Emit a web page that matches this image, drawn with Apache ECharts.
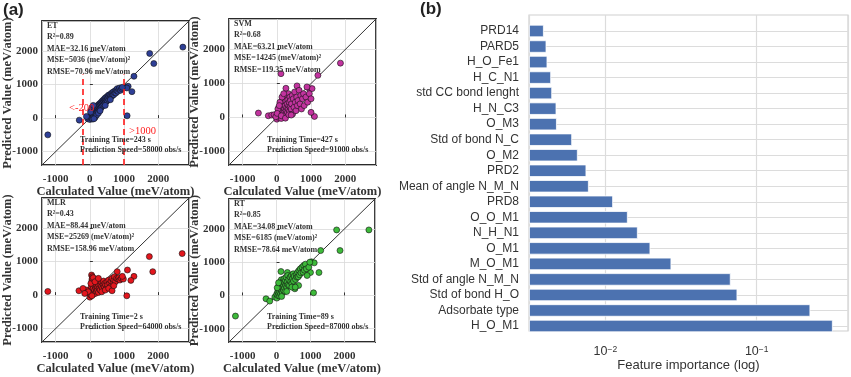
<!DOCTYPE html>
<html>
<head>
<meta charset="utf-8">
<script src="https://cdn.jsdelivr.net/npm/echarts@6/dist/echarts.min.js"></script>
<style>
  html, body { margin: 0; padding: 0; background: #fff; }
  #chart { width: 851px; height: 377px; }
</style>
</head>
<body>
<div id="chart"></div>
<script>
// ---- data: panel (a), calculated vs predicted (meV/atom) ----
const etPoints = [
  [-1230, -500], [2720, 2120], [1750, 1930], [1870, 1630], [1290, 1250], [1230, 790], [1090, 70], [-310, -60],
  [1040, 930], [1120, 950], [1080, 900],
  [-60, -20], [-20, 30], [0, -40], [10, 60], [30, 0], [40, 110], [50, 30], [60, 150], [70, 70], [80, -30],
  [90, 120], [100, 200], [110, 60], [120, 160], [130, 250], [140, 100], [150, 190], [160, 300], [170, 130],
  [180, 230], [190, 330], [200, 170], [210, 260], [220, 360], [230, 200], [240, 290], [250, 400], [260, 230],
  [270, 330], [280, 420], [290, 270], [300, 370], [310, 450], [320, 300], [330, 400], [340, 480], [350, 340],
  [360, 430], [370, 520], [380, 380], [390, 470], [400, 540], [410, 410], [420, 500], [430, 580], [440, 450],
  [450, 540], [460, 610], [470, 480], [480, 560], [500, 640], [510, 520], [520, 600], [540, 680], [550, 560],
  [560, 640], [580, 700], [600, 620], [610, 690], [630, 740], [650, 660], [660, 720], [680, 780], [700, 700],
  [720, 760], [740, 820], [760, 750], [780, 830], [800, 880], [820, 800], [850, 860], [870, 900], [900, 830],
  [930, 880], [950, 920], [70, 330], [40, 250], [100, 380], [-100, 50], [150, 20], [200, 90], [250, 150],
  [600, 550], [450, 380], [300, 220], [120, -20], [20, 180]
];
const svmPoints = [
  [-540, 130], [1860, 1600], [120, 1290], [1200, 1240], [265, 860], [590, 930], [1100, 30], [1000, 150],
  [950, 850], [1030, 850], [-250, 50], [-150, 70],
  [0, -50], [20, 60], [40, 150], [50, 0], [60, 300], [70, 100], [80, 200], [90, 50], [100, 400], [110, 150],
  [120, 250], [130, -30], [140, 350], [150, 100], [160, 500], [170, 200], [180, 300], [190, 60], [200, 420],
  [210, 150], [220, 550], [230, 260], [240, 350], [250, 100], [260, 480], [270, 200], [280, 650], [290, 300],
  [300, 400], [310, 150], [320, 520], [330, 250], [340, 700], [350, 350], [360, 450], [370, 180], [380, 600],
  [390, 300], [400, 500], [420, 250], [430, 400], [450, 650], [460, 100], [480, 550], [500, 300], [520, 750],
  [540, 450], [560, 200], [580, 600], [600, 350], [620, 500], [650, 800], [680, 400], [700, 650], [720, 250],
  [750, 550], [780, 700], [800, 350], [850, 600], [880, 900], [900, 450], [950, 700], [1000, 550], [-80, 80],
  [-30, 20], [30, 250], [90, 450], [150, 600], [200, 700], [10, 120], [70, 350], [130, 50], [250, -20],
  [350, 80], [420, 70]
];
const mlrPoints = [
  [-1230, 110], [2700, 1240], [1740, 1150], [1840, 700], [1100, 750], [1290, 560], [1200, 440], [1080, -20],
  [-320, 130], [800, 700],
  [0, -60], [10, 50], [20, 150], [30, 0], [40, 250], [50, 100], [50, 600], [60, 450], [70, 550], [80, 300],
  [90, 20], [100, 200], [110, 350], [120, 80], [130, 450], [140, 150], [150, 280], [160, 50], [170, 380],
  [180, 200], [190, 120], [200, 300], [210, 420], [220, 150], [230, 250], [240, 350], [250, 80], [260, 300],
  [280, 200], [290, 400], [300, 150], [320, 300], [340, 250], [350, 380], [370, 200], [390, 320], [400, 420],
  [420, 250], [440, 350], [460, 300], [480, 200], [500, 400], [520, 300], [550, 450], [580, 350], [600, 250],
  [620, 420], [650, 500], [680, 380], [700, 450], [720, 550], [750, 400], [780, 500], [820, 480], [850, 520],
  [880, 450], [920, 500], [980, 480], [-100, 150], [-50, 100], [-200, 200], [-150, 50], [30, 350], [70, 500],
  [100, 520], [150, 400], [60, -20], [250, 500], [350, 100], [450, 150], [550, 200], [650, 130], [700, 280],
  [950, 560]
];
const rtPoints = [
  [-1210, -620], [2720, 1970], [1770, 1970], [1870, 1350], [1300, 1350], [1250, 690], [1090, 80], [-310, -100],
  [130, 720], [320, 690], [1000, 690], [1030, 1010], [1110, 980], [-200, -170],
  [-50, -50], [0, 30], [10, -80], [30, 100], [40, 0], [50, 200], [60, 60], [70, 300], [80, 120], [90, -20],
  [100, 400], [110, 180], [120, 50], [130, 260], [140, 470], [150, 140], [160, 350], [170, 80], [180, 230],
  [190, 420], [200, 160], [210, 300], [220, 500], [230, 220], [240, 380], [250, 120], [260, 450], [270, 300],
  [280, 550], [300, 250], [310, 400], [330, 600], [340, 320], [360, 480], [380, 300], [400, 550], [420, 420],
  [440, 600], [450, 350], [470, 500], [490, 650], [500, 430], [520, 580], [540, 200], [560, 480], [580, 620],
  [600, 550], [620, 700], [640, 560], [660, 750], [680, 620], [700, 800], [720, 680], [750, 850], [780, 700],
  [800, 900], [820, 760], [850, 940], [880, 800], [900, 600], [950, 850], [980, 1000], [20, 230], [60, 380],
  [150, -30], [300, 120], [450, 250], [650, 300], [550, 250]
];
const modelNames = ['ET', 'SVM', 'MLR', 'RT'];
const r2 = ['0.89', '0.68', '0.43', '0.85'];
const mae = ['32.16', '63.21', '88.44', '34.08'];
const mse = ['5036', '14245', '25269', '6185'];
const rmse = ['70.96', '119.35', '158.96', '78.64'];
const trainTime = ['243', '427', '2', '89'];
const predSpeed = ['58000', '91000', '64000', '87000'];
const axisRange = [-1400, 2900];
const etCutoffs = [-200, 1000];
const etCutoffTop = 1300;

// ---- data: panel (b), feature importance ----
const features = ['PRD14', 'PARD5', 'H_O_Fe1', 'H_C_N1', 'std CC bond lenght', 'H_N_C3', 'O_M3',
  'Std of bond N_C', 'O_M2', 'PRD2', 'Mean of angle N_M_N', 'PRD8', 'O_O_M1', 'N_H_N1', 'O_M1',
  'M_O_M1', 'Std of angle N_M_N', 'Std of bond H_O', 'Adsorbate type', 'H_O_M1'];
const importance = [0.00392, 0.00408, 0.00414, 0.00438, 0.00445, 0.00475, 0.00478,
  0.00603, 0.00657, 0.00749, 0.00777, 0.01124, 0.01406, 0.01637, 0.01983,
  0.02729, 0.0673, 0.0745, 0.226, 0.318];
const logRange = [0.00313, 0.401];

// ---- layout / style ----
const serif = 'Liberation Serif';
const sans = 'Liberation Sans';
const ink = '#333';
const dotColors = ['#2e3f96', '#c2339f', '#e3161d', '#3dba3a'];
const pointSets = [etPoints, svmPoints, mlrPoints, rtPoints];
const scatterGrids = [
  { left: 42, top: 21, width: 147, height: 144 },
  { left: 229, top: 19, width: 147, height: 146 },
  { left: 42, top: 198, width: 147, height: 144 },
  { left: 229, top: 199, width: 146, height: 143 }
];

const chart = echarts.init(document.getElementById('chart'));

const grid = [], xAxis = [], yAxis = [], series = [], graphic = [];

scatterGrids.forEach((g, i) => {
  grid.push(Object.assign({ show: true, borderColor: '#2a2a2a', borderWidth: 1.8, backgroundColor: '#fff' }, g));
  const common = {
    type: 'value', gridIndex: i, min: axisRange[0], max: axisRange[1],
    axisLine: { show: false },
    axisTick: { show: true, inside: true, length: 3, lineStyle: { color: ink } },
    splitLine: { show: true, lineStyle: { color: '#d9d9d9', width: 0.8 } },
    axisLabel: { showMinLabel: false, showMaxLabel: false, color: ink, fontFamily: serif,
      fontWeight: 'bold', fontSize: 11, formatter: v => String(v) },
    nameLocation: 'middle', nameMoveOverlap: false,
    nameTextStyle: { color: ink, fontFamily: serif, fontWeight: 'bold', fontSize: 12.5 }
  };
  xAxis.push(Object.assign({}, common, {
    axisLabel: Object.assign({}, common.axisLabel, { margin: 9 }),
    name: 'Calculated Value (meV/atom)', nameGap: 20
  }));
  yAxis.push(Object.assign({}, common, {
    axisLabel: Object.assign({}, common.axisLabel, { margin: 4 }),
    name: 'Predicted Value (meV/atom)', nameGap: 28
  }));

  series.push({
    type: 'line', xAxisIndex: i, yAxisIndex: i, symbol: 'none', silent: true, z: 3,
    lineStyle: { color: '#333', width: 1 },
    data: [[axisRange[0], axisRange[0]], [axisRange[1], axisRange[1]]]
  });
  const sc = {
    type: 'scatter', xAxisIndex: i, yAxisIndex: i, symbolSize: 6, z: 4,
    itemStyle: { color: dotColors[i], borderColor: '#111', borderWidth: 0.6, opacity: 1 },
    data: pointSets[i]
  };
  if (i === 0) {
    sc.markLine = {
      silent: true, symbol: ['none', 'none'], label: { show: false },
      lineStyle: { color: '#ff1a1a', type: [6, 4], width: 1.6 },
      data: etCutoffs.map(c => [{ coord: [c, axisRange[0]] }, { coord: [c, etCutoffTop] }])
    };
  }
  series.push(sc);

  // annotation text, anchored by its vertical middle
  const txt = { fontFamily: serif, fontWeight: 'bold', fontSize: 8, fill: ink, verticalAlign: 'middle' };
  const lines = [modelNames[i], 'R\u00b2=' + r2[i], 'MAE=' + mae[i] + ' meV/atom',
    'MSE=' + mse[i] + ' (meV/atom)\u00b2', 'RMSE=' + rmse[i] + ' meV/atom'];
  lines.forEach((t, k) => {
    graphic.push({ type: 'text', x: g.left + 5, y: g.top + 4.5 + k * 11.6, z: 10,
      style: Object.assign({ text: t }, txt) });
  });
  const bottom = g.top + g.height;
  graphic.push({ type: 'text', x: g.left + 38, y: bottom - 25.5, z: 10,
    style: Object.assign({ text: 'Training Time=' + trainTime[i] + ' s' }, txt) });
  graphic.push({ type: 'text', x: g.left + 38, y: bottom - 15, z: 10,
    style: Object.assign({ text: 'Prediction Speed=' + predSpeed[i] + ' obs/s' }, txt) });
});

// red cutoff labels in ET plot
graphic.push({ type: 'text', x: 69, y: 108, z: 10,
  style: { text: '<-200', fontFamily: serif, fontSize: 10.5, fill: '#ff2020', verticalAlign: 'middle' } });
graphic.push({ type: 'text', x: 129, y: 131, z: 10,
  style: { text: '>1000', fontFamily: serif, fontSize: 10.5, fill: '#ff2020', verticalAlign: 'middle' } });

// panel labels
graphic.push({ type: 'text', x: 3, y: 10, style: { text: '(a)', fontFamily: sans, fontWeight: 'bold', fontSize: 17, fill: '#222', verticalAlign: 'middle' } });
graphic.push({ type: 'text', x: 420, y: 9, style: { text: '(b)', fontFamily: sans, fontWeight: 'bold', fontSize: 17, fill: '#222', verticalAlign: 'middle' } });

// panel (b): frame grid (4) and bar grid (5)
grid.push({ left: 529, right: 3, top: 15, bottom: 36, show: true, borderColor: '#cfcfcf', borderWidth: 1.2 });
grid.push({ left: 529, right: 3, top: 31, bottom: 51 });

const supLabel = v => {
  const e = Math.round(Math.log10(v));
  return '{b|10}{s|' + (e < 0 ? '\u2212' : '') + Math.abs(e) + '}';
};
xAxis.push({
  type: 'log', gridIndex: 4, min: logRange[0], max: logRange[1], logBase: 10,
  axisLine: { show: false }, axisTick: { show: false },
  splitLine: { show: true, lineStyle: { color: '#dcdcdc', width: 1.2 } },
  axisLabel: {
    showMinLabel: false, showMaxLabel: false, margin: 14, formatter: supLabel,
    rich: {
      b: { fontFamily: sans, fontSize: 12.5, color: ink, verticalAlign: 'bottom' },
      s: { fontFamily: sans, fontSize: 8.5, color: ink, verticalAlign: 'top' }
    }
  },
  name: 'Feature importance (log)', nameLocation: 'middle', nameGap: 28, nameMoveOverlap: false,
  nameTextStyle: { fontFamily: sans, fontSize: 13, color: ink }
});
yAxis.push({ type: 'value', gridIndex: 4, show: false });
xAxis.push({
  type: 'log', gridIndex: 5, min: logRange[0], max: logRange[1], logBase: 10, startValue: logRange[0],
  show: false, splitLine: { show: false }
});
yAxis.push({
  type: 'category', gridIndex: 5, data: features, inverse: true, boundaryGap: false,
  axisLine: { show: false }, axisTick: { show: false },
  splitLine: { show: true, lineStyle: { color: '#dcdcdc', width: 1.2 } },
  axisLabel: { margin: 10, fontFamily: sans, fontSize: 12, color: ink, interval: 0 }
});
series.push({
  type: 'bar', xAxisIndex: 5, yAxisIndex: 5, data: importance, barWidth: 12.4,
  itemStyle: { color: '#4c72b0', borderColor: '#fff', borderWidth: 0.8 }
});

chart.setOption({
  animation: false,
  backgroundColor: '#fff',
  grid: grid, xAxis: xAxis, yAxis: yAxis, series: series, graphic: graphic
});
</script>
</body>
</html>
